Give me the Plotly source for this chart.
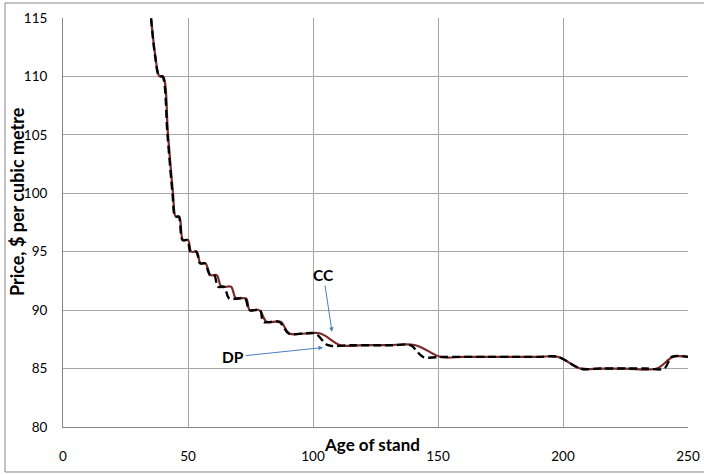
import plotly.graph_objects as go

# CC series (solid dark red)
cc_age = [34.8, 36.9, 38.6, 40.0, 42.0, 44.0, 45.1, 46.5, 48.0, 50.0, 51.3, 53.5, 55.0, 57.0,
          59.0, 61.5, 63.4, 67.2, 69.2, 73.2, 74.7, 78.5, 81.5, 87.0, 90.5, 97.0, 103.0, 111.0,
          120.0, 130.0, 141.0, 151.0, 160.0, 170.0, 180.0, 190.0, 198.0, 207.0, 215.0, 225.0,
          237.5, 244.0, 250.0]
cc_price = [116, 111.8, 110, 110, 105, 100, 98, 98, 96, 96, 95, 95, 94, 94,
            93, 93, 92, 92, 91, 91, 90, 90, 89, 89, 88, 88, 88, 87,
            87, 87, 87, 86, 86, 86, 86, 86, 86, 85, 85, 85,
            85, 86, 86]

# DP series (black dashed)
dp_age = [34.8, 36.8, 38.5, 39.8, 41.8, 43.8, 44.9, 46.3, 47.8, 49.8, 51.0, 53.3, 54.8, 56.8,
          58.8, 60.5, 62.0, 64.5, 66.5, 72.8, 74.5, 78.8, 80.2, 86.5, 90.3, 96.0, 101.0, 106.0,
          115.0, 125.0, 132.0, 139.0, 144.0, 152.0, 160.0, 170.0, 180.0, 190.0, 198.0, 207.0,
          215.0, 225.0, 233.0, 240.5, 243.5, 250.0]
dp_price = [116, 111.8, 110, 110, 105, 100, 98, 98, 96, 96, 95, 95, 94, 94,
            93, 93, 92, 92, 91, 91, 90, 90, 89, 89, 88, 88, 88, 87,
            87, 87, 87, 87, 86, 86, 86, 86, 86, 86, 86, 85,
            85, 85, 85, 85, 86, 86]

x_ticks = [0, 50, 100, 150, 200, 250]
y_ticks = [80, 85, 90, 95, 100, 105, 110, 115]

FONT = "Lato"
GRID = "#A6A6A6"

fig = go.Figure()
fig.add_trace(go.Scatter(x=cc_age, y=cc_price, mode="lines", name="CC",
                         line=dict(color="#7B2C2A", width=2.2, shape="spline", smoothing=1.0)))
fig.add_trace(go.Scatter(x=dp_age, y=dp_price, mode="lines", name="DP",
                         line=dict(color="black", width=2.4, dash="8px,4px", shape="spline", smoothing=0.9)))

fig.update_layout(
    width=704, height=475,
    margin=dict(l=63, r=16, t=18, b=48),
    paper_bgcolor="white", plot_bgcolor="white",
    showlegend=False,
    font=dict(family=FONT, size=13.5, color="black"),
    xaxis=dict(range=[0, 250], tickvals=x_ticks, showgrid=True, gridcolor=GRID, gridwidth=1,
               showline=True, linecolor="#868686", linewidth=1, zeroline=False, automargin=False,
               ticks="outside", ticklen=17, tickcolor="rgba(0,0,0,0)",
               tickfont=dict(family=FONT, size=13.5)),
    yaxis=dict(range=[80, 115], tickvals=y_ticks, showgrid=True, gridcolor=GRID, gridwidth=1,
               showline=True, linecolor="#868686", linewidth=1, zeroline=False, automargin=False,
               ticks="outside", ticklen=12, tickcolor="rgba(0,0,0,0)",
               tickfont=dict(family=FONT, size=13.5)),
)

# outer chart border
fig.add_shape(type="rect", xref="paper", yref="paper",
              x0=-0.0928, x1=1.1, y0=-0.11, y1=1.0367,
              line=dict(color="#868686", width=1), layer="above")

# axis titles as annotations (Excel-like placement)
fig.add_annotation(text="<b>Age of stand</b>", xref="paper", yref="paper",
                   x=0.4944, y=-0.0416, showarrow=False, xanchor="center", yanchor="middle",
                   font=dict(family=FONT, size=17))
fig.add_annotation(text="<b>Price, $ per cubic metre</b>", xref="paper", yref="paper",
                   x=-0.0736, y=0.550, showarrow=False, textangle=-90,
                   xanchor="center", yanchor="middle", font=dict(family=FONT, size=18))

# CC / DP labels with arrows
fig.add_annotation(text="<b>CC</b>", x=107.6, y=88.15, ax=104.2, ay=93.0,
                   xref="x", yref="y", axref="x", ayref="y",
                   showarrow=True, arrowhead=2, arrowsize=0.9, arrowwidth=1, arrowcolor="#4A7EBB",
                   font=dict(family=FONT, size=15.5))
fig.add_annotation(text="<b>DP</b>", x=104.0, y=86.8, ax=68.1, ay=86.0,
                   xref="x", yref="y", axref="x", ayref="y",
                   showarrow=True, arrowhead=2, arrowsize=0.9, arrowwidth=1, arrowcolor="#4A7EBB",
                   font=dict(family=FONT, size=15.5))

fig.write_html("out.html", config={"displayModeBar": False},
               post_script="document.body.style.margin='0px';")
